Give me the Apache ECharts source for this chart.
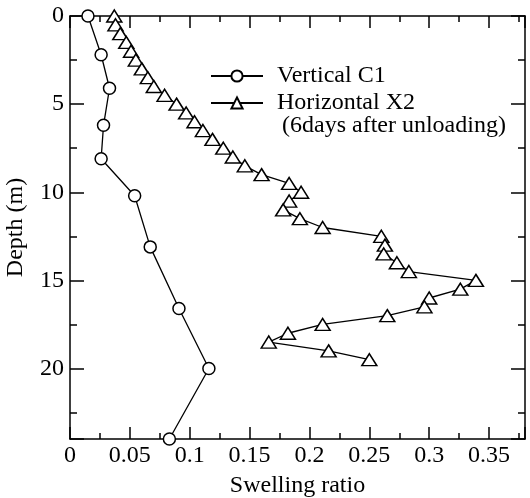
<!DOCTYPE html>
<html>
<head>
<meta charset="utf-8">
<script src="https://cdn.jsdelivr.net/npm/echarts@6/dist/echarts.min.js"></script>
<style>
html,body{margin:0;padding:0;background:#fff;}
#chart{width:530px;height:498px;}
</style>
</head>
<body>
<div id="chart"></div>
<script>
// Vertical C1 (circles)
const depthC1 = [0, 2.2, 4.1, 6.2, 8.1, 10.2, 13.1, 16.6, 20.0, 24.0];
const swellC1 = [0.015, 0.026, 0.033, 0.028, 0.026, 0.054, 0.067, 0.091, 0.116, 0.083];

// Horizontal X2 (triangles)
const depthX2 = [0, 0.5, 1, 1.5, 2, 2.5, 3, 3.5, 4, 4.5, 5, 5.5, 6, 6.5, 7, 7.5, 8, 8.5, 9,
                 9.5, 10, 10.5, 11, 11.5, 12, 12.5, 13, 13.5, 14, 14.5, 15, 15.5, 16, 16.5, 17,
                 17.5, 18, 18.5, 19, 19.5];
const swellX2 = [0.037, 0.038, 0.042, 0.047, 0.051, 0.055, 0.060, 0.065, 0.070, 0.079, 0.089, 0.097, 0.104, 0.111, 0.119, 0.128, 0.136, 0.146, 0.160,
                 0.183, 0.193, 0.183, 0.178, 0.192, 0.211, 0.260, 0.263, 0.262, 0.273, 0.283, 0.339, 0.326, 0.300, 0.296, 0.265,
                 0.211, 0.182, 0.166, 0.216, 0.250];

const seriesNames = ['Vertical C1', 'Horizontal X2'];
const noteText = ' (6days after unloading)';
const xTitle = 'Swelling ratio';
const yTitle = 'Depth (m)';

const FONT = "'Liberation Serif', 'Times New Roman', serif";
const FS = 24;
const BLACK = '#000';

const xFmt = v => {
  const r = Math.round(v / 0.05);
  return Math.abs(v - r * 0.05) < 1e-6 ? String(+v.toFixed(2)) : '';
};
const yFmt = v => (Math.abs(v % 5) < 1e-6 ? String(v) : '');

function xAxisDef(pos, interval, tickLen, major) {
  return {
    type: 'value', position: pos, min: 0, max: 0.38, interval: interval,
    axisLine: { show: major, onZero: false, lineStyle: { color: BLACK, width: 1.5 } },
    axisTick: { show: true, inside: true, length: tickLen, lineStyle: { color: BLACK, width: 1.5 } },
    axisLabel: { show: major && pos === 'bottom', formatter: xFmt, fontFamily: FONT, fontSize: FS, color: BLACK, margin: 5 },
    splitLine: { show: false },
    name: (major && pos === 'bottom') ? xTitle : '',
    nameLocation: 'middle', nameGap: 35,
    nameTextStyle: { fontFamily: FONT, fontSize: FS, color: BLACK }
  };
}
function yAxisDef(pos, interval, tickLen, major) {
  return {
    type: 'value', position: pos, inverse: true, min: 0, max: 24, interval: interval,
    axisLine: { show: major, onZero: false, lineStyle: { color: BLACK, width: 1.5 } },
    axisTick: { show: true, inside: true, length: tickLen, lineStyle: { color: BLACK, width: 1.5 } },
    axisLabel: { show: major && pos === 'left', formatter: yFmt, fontFamily: FONT, fontSize: FS, color: BLACK, margin: 6 },
    splitLine: { show: false },
    name: (major && pos === 'left') ? yTitle : '',
    nameLocation: 'middle', nameGap: 42, nameRotate: 90,
    nameTextStyle: { fontFamily: FONT, fontSize: FS, color: BLACK }
  };
}

const chart = echarts.init(document.getElementById('chart'), null, { renderer: 'canvas' });
chart.setOption({
  animation: false,
  backgroundColor: '#fff',
  grid: { left: 70, top: 16, right: 5, bottom: 59, containLabel: false, outerBoundsMode: 'none' },
  title: {
    text: noteText, left: 276, top: 114, padding: 0,
    textStyle: { fontFamily: FONT, fontSize: FS, fontWeight: 'normal', color: BLACK }
  },
  legend: {
    orient: 'vertical', left: 205, top: 59, itemWidth: 52, itemHeight: 14, itemGap: 3,
    data: seriesNames,
    textStyle: { fontFamily: FONT, fontSize: FS, color: BLACK, padding: [0, 0, 0, 9] }
  },
  xAxis: [
    xAxisDef('bottom', 0.05, 12, true),
    xAxisDef('bottom', 0.025, 6, false),
    xAxisDef('top', 0.05, 12, true),
    xAxisDef('top', 0.025, 6, false)
  ],
  yAxis: [
    yAxisDef('left', 5, 14, true),
    yAxisDef('left', 2.5, 7, false),
    yAxisDef('right', 5, 14, true),
    yAxisDef('right', 2.5, 7, false)
  ],
  series: [
    {
      name: seriesNames[0], type: 'line', xAxisIndex: 0, yAxisIndex: 0, clip: false,
      data: swellC1.map((v, i) => [v, depthC1[i]]),
      symbol: 'circle', symbolSize: 12,
      lineStyle: { color: BLACK, width: 1.3 },
      itemStyle: { color: '#fff', borderColor: BLACK, borderWidth: 1.5 },
      emphasis: { disabled: true }, z: 3
    },
    {
      name: seriesNames[1], type: 'line', xAxisIndex: 0, yAxisIndex: 0, clip: false,
      data: swellX2.map((v, i) => [v, depthX2[i]]),
      symbol: 'triangle', symbolSize: [15, 12],
      lineStyle: { color: BLACK, width: 1.3 },
      itemStyle: { color: '#fff', borderColor: BLACK, borderWidth: 1.5 },
      emphasis: { disabled: true }, z: 3
    }
  ]
});
</script>
</body>
</html>
